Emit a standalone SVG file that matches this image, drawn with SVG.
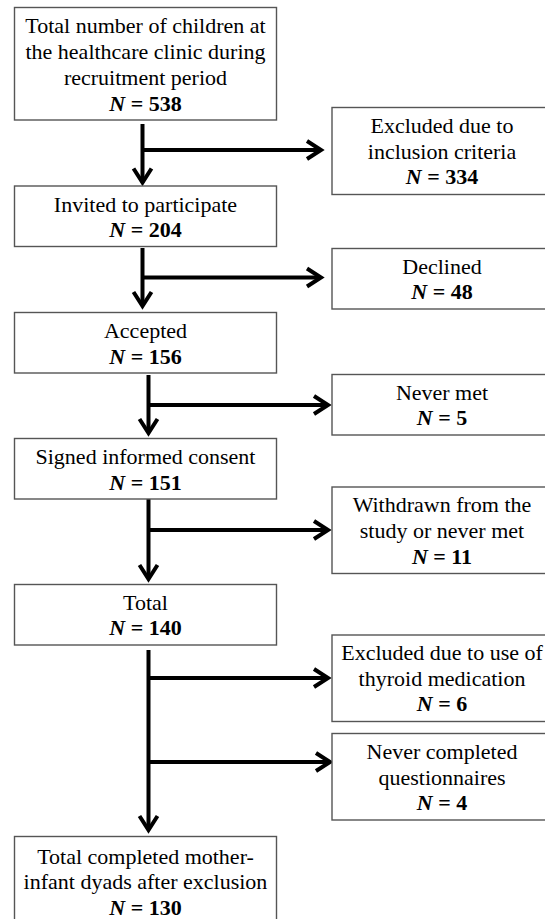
<svg xmlns="http://www.w3.org/2000/svg" width="545" height="919" viewBox="0 0 545 919">
<style>
.box{fill:#fff;stroke:#555;stroke-width:1.4}
.t{font-family:'Liberation Serif','Times New Roman',serif;font-size:22px;fill:#000;text-anchor:middle}
.b{font-weight:bold}
.i{font-style:italic}
.c{stroke:#000;stroke-width:4;fill:none}
</style>
<defs>
<marker id="ah" markerUnits="userSpaceOnUse" markerWidth="30" markerHeight="30" viewBox="-20 -15 30 30" refX="0" refY="0" orient="auto">
<path d="M-14,-9 L0,0 L-14,9" fill="none" stroke="#000" stroke-width="4" stroke-linejoin="miter"/>
</marker>
</defs>
<rect width="545" height="919" fill="#fff"/>
<g id="connectors">
<path class="c" d="M142.5,124 V182.5" marker-end="url(#ah)"/>
<path class="c" d="M142.5,150 H321" marker-end="url(#ah)"/>
<path class="c" d="M142.5,248 V306" marker-end="url(#ah)"/>
<path class="c" d="M142.5,277.5 H321" marker-end="url(#ah)"/>
<path class="c" d="M148.5,375 V433" marker-end="url(#ah)"/>
<path class="c" d="M148.5,405 H328" marker-end="url(#ah)"/>
<path class="c" d="M148.5,499 V579" marker-end="url(#ah)"/>
<path class="c" d="M148.5,530 H328" marker-end="url(#ah)"/>
<path class="c" d="M148.5,650 V830" marker-end="url(#ah)"/>
<path class="c" d="M148.5,678 H328" marker-end="url(#ah)"/>
<path class="c" d="M148.5,762 H330" marker-end="url(#ah)"/>
</g>
<g id="n1">
<rect class="box" x="14.5" y="7.5" width="262" height="112.5"/>
<text class="t" x="145.5" y="33">Total number of children at</text>
<text class="t" x="145.5" y="59">the healthcare clinic during</text>
<text class="t" x="145.5" y="85">recruitment period</text>
<text class="t b" x="145.5" y="111"><tspan class="i">N</tspan> = 538</text>
</g>
<g id="n2">
<rect class="box" x="332" y="107.5" width="222" height="87"/>
<text class="t" x="442" y="133">Excluded due to</text>
<text class="t" x="442" y="158.5">inclusion criteria</text>
<text class="t b" x="442" y="184"><tspan class="i">N</tspan> = 334</text>
</g>
<g id="n3">
<rect class="box" x="14.5" y="186" width="262" height="60.5"/>
<text class="t" x="145.5" y="211.5">Invited to participate</text>
<text class="t b" x="145.5" y="237"><tspan class="i">N</tspan> = 204</text>
</g>
<g id="n4">
<rect class="box" x="332" y="248.5" width="222" height="60.5"/>
<text class="t" x="442" y="273.5">Declined</text>
<text class="t b" x="442" y="299"><tspan class="i">N</tspan> = 48</text>
</g>
<g id="n5">
<rect class="box" x="14.5" y="312.5" width="262" height="60.5"/>
<text class="t" x="145.5" y="338">Accepted</text>
<text class="t b" x="145.5" y="363.5"><tspan class="i">N</tspan> = 156</text>
</g>
<g id="n6">
<rect class="box" x="332" y="374.5" width="222" height="60.5"/>
<text class="t" x="442" y="399.5">Never met</text>
<text class="t b" x="442" y="425"><tspan class="i">N</tspan> = 5</text>
</g>
<g id="n7">
<rect class="box" x="14.5" y="438.5" width="262" height="60.5"/>
<text class="t" x="145.5" y="464">Signed informed consent</text>
<text class="t b" x="145.5" y="489.5"><tspan class="i">N</tspan> = 151</text>
</g>
<g id="n8">
<rect class="box" x="332" y="487" width="222" height="86.5"/>
<text class="t" x="442" y="512">Withdrawn from the</text>
<text class="t" x="442" y="537.5">study or never met</text>
<text class="t b" x="442" y="563.5"><tspan class="i">N</tspan> = 11</text>
</g>
<g id="n9">
<rect class="box" x="14.5" y="584.5" width="262" height="60.5"/>
<text class="t" x="145.5" y="610">Total</text>
<text class="t b" x="145.5" y="635"><tspan class="i">N</tspan> = 140</text>
</g>
<g id="n10">
<rect class="box" x="332" y="635" width="222" height="86.5"/>
<text class="t" x="442" y="659.5">Excluded due to use of</text>
<text class="t" x="442" y="685.5">thyroid medication</text>
<text class="t b" x="442" y="710.5"><tspan class="i">N</tspan> = 6</text>
</g>
<g id="n11">
<rect class="box" x="332" y="733.5" width="222" height="86.5"/>
<text class="t" x="442" y="759">Never completed</text>
<text class="t" x="442" y="785">questionnaires</text>
<text class="t b" x="442" y="810"><tspan class="i">N</tspan> = 4</text>
</g>
<g id="n12">
<rect class="box" x="14.5" y="836.5" width="262" height="90"/>
<text class="t" x="145.5" y="863.5">Total completed mother-</text>
<text class="t" x="145.5" y="889">infant dyads after exclusion</text>
<text class="t b" x="145.5" y="914.5"><tspan class="i">N</tspan> = 130</text>
</g>
</svg>
